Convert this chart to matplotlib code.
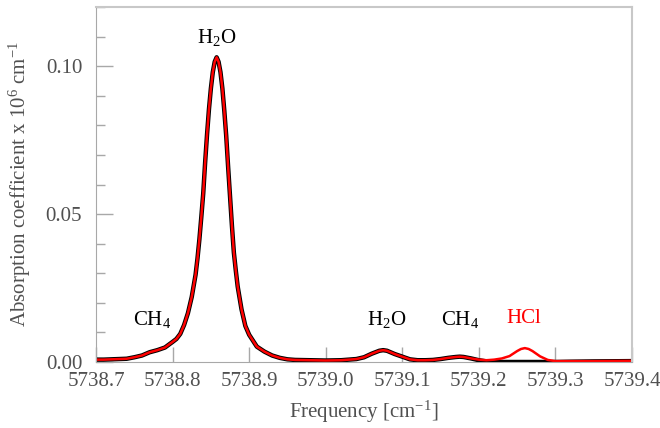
import matplotlib
matplotlib.use("Agg")
import matplotlib.pyplot as plt
from matplotlib.ticker import MultipleLocator, FormatStrFormatter

plt.rcParams["font.family"] = ["Liberation Serif", "DejaVu Serif"]
plt.rcParams["mathtext.fontset"] = "custom"
plt.rcParams["mathtext.rm"] = "Liberation Serif"
plt.rcParams["mathtext.it"] = "Liberation Serif:italic"

# frequency grid [cm-1]
freq = [5738.700, 5738.710, 5738.720, 5738.730, 5738.740, 5738.750, 5738.760,
        5738.770, 5738.780, 5738.790, 5738.800, 5738.805, 5738.810, 5738.815,
        5738.820, 5738.825, 5738.830, 5738.8325, 5738.835, 5738.8375, 5738.840,
        5738.8425, 5738.845, 5738.8475, 5738.850, 5738.8525, 5738.855, 5738.8575,
        5738.860, 5738.8625, 5738.865, 5738.8675, 5738.870, 5738.8725, 5738.875,
        5738.8775, 5738.880, 5738.8825, 5738.885, 5738.890, 5738.895, 5738.900,
        5738.910, 5738.920, 5738.930, 5738.940, 5738.950, 5738.960, 5738.980,
        5739.000, 5739.020, 5739.040, 5739.050, 5739.060, 5739.070, 5739.075,
        5739.080, 5739.090, 5739.100, 5739.110, 5739.120, 5739.130, 5739.140,
        5739.150, 5739.160, 5739.170, 5739.175, 5739.180, 5739.190, 5739.200,
        5739.210, 5739.220, 5739.230, 5739.240, 5739.250, 5739.255, 5739.260,
        5739.265, 5739.270, 5739.275, 5739.280, 5739.290, 5739.300, 5739.320,
        5739.350, 5739.400]

# absorption without HCl (black)
abs_no_hcl = [0.0008, 0.0008, 0.0009, 0.0010, 0.0011, 0.0016, 0.0022,
              0.0033, 0.0040, 0.0049, 0.0068, 0.0078, 0.0095, 0.0125,
              0.0165, 0.0220, 0.0295, 0.0350, 0.0415, 0.0490, 0.0570,
              0.0675, 0.0770, 0.0855, 0.0925, 0.0980, 0.1015, 0.1030,
              0.1015, 0.0980, 0.0925, 0.0850, 0.0765, 0.0660, 0.0560,
              0.0460, 0.0370, 0.0310, 0.0255, 0.0178, 0.0122, 0.0092,
              0.0052, 0.0035, 0.0022, 0.0014, 0.0009, 0.0007, 0.0006,
              0.0005, 0.0006, 0.0010, 0.0016, 0.0028, 0.0038, 0.0040,
              0.0038, 0.0027, 0.0018, 0.0009, 0.0006, 0.0006, 0.0007,
              0.0010, 0.0014, 0.0017, 0.0018, 0.0017, 0.0012, 0.0006,
              0.0002, 0.0000, 0.0000, 0.0000, 0.0000, 0.0000, 0.0000,
              0.0000, 0.0000, 0.0000, 0.0000, 0.0000, 0.0000, 0.0001,
              0.0002, 0.0003]

# total absorption including HCl (red)
abs_total = [0.0008, 0.0008, 0.0009, 0.0010, 0.0011, 0.0016, 0.0022,
             0.0033, 0.0040, 0.0049, 0.0068, 0.0078, 0.0095, 0.0125,
             0.0165, 0.0220, 0.0295, 0.0350, 0.0415, 0.0490, 0.0570,
             0.0675, 0.0770, 0.0855, 0.0925, 0.0980, 0.1015, 0.1030,
             0.1015, 0.0980, 0.0925, 0.0850, 0.0765, 0.0660, 0.0560,
             0.0460, 0.0370, 0.0310, 0.0255, 0.0178, 0.0122, 0.0092,
             0.0052, 0.0035, 0.0022, 0.0014, 0.0009, 0.0007, 0.0006,
             0.0005, 0.0006, 0.0010, 0.0016, 0.0028, 0.0038, 0.0040,
             0.0038, 0.0027, 0.0018, 0.0009, 0.0006, 0.0006, 0.0007,
             0.0010, 0.0014, 0.0017, 0.0018, 0.0017, 0.0012, 0.0008,
             0.0006, 0.0008, 0.0012, 0.0020, 0.0037, 0.0044, 0.0047,
             0.0044, 0.0037, 0.0028, 0.0019, 0.0007, 0.0003, 0.0003,
             0.0003, 0.0004]

# peak labels
label_text = ["H$_2$O", "CH$_4$", "H$_2$O", "CH$_4$", "HCl"]
label_freq = [5738.858, 5738.773, 5739.080, 5739.175, 5739.259]
label_abs = [0.1098, 0.0142, 0.0142, 0.0142, 0.0148]
label_color = ["black", "black", "black", "black", "red"]

fig = plt.figure(figsize=(6.6, 4.28), dpi=100)
ax = fig.add_axes([0.1455, 0.1542, 0.8121, 0.8294])

ax.plot(freq, abs_no_hcl, color="black", lw=3.2, solid_joinstyle="round")
ax.plot(freq, abs_total, color="red", lw=1.8, solid_joinstyle="round")

for txt, f, a, c in zip(label_text, label_freq, label_abs, label_color):
    ax.text(f, a, txt, color=c, fontsize=15, ha="center", va="center")

ax.set_xlim(5738.7, 5739.4)
ax.set_ylim(0, 0.12)
ax.xaxis.set_major_locator(MultipleLocator(0.1))
ax.xaxis.set_major_formatter(FormatStrFormatter("%.1f"))
ax.yaxis.set_major_locator(MultipleLocator(0.05))
ax.yaxis.set_minor_locator(MultipleLocator(0.01))
ax.yaxis.set_major_formatter(FormatStrFormatter("%.2f"))

grey = "#a8a8a8"
ax.tick_params(axis="x", which="major", direction="in", length=11, width=1,
               color=grey, labelsize=15, labelcolor="#505050", pad=7)
ax.tick_params(axis="y", which="major", direction="in", length=12, width=1,
               color=grey, labelsize=15, labelcolor="#505050", pad=10)
ax.tick_params(axis="y", which="minor", direction="in", length=6.5, width=1,
               color=grey)
for side in ["left", "bottom"]:
    ax.spines[side].set_color(grey)
for side in ["top", "right"]:
    ax.spines[side].set_color("#c8c8c8")
    ax.spines[side].set_linewidth(1.5)

ax.set_xlabel("Frequency [cm$^{-1}$]", fontsize=15, color="#505050", labelpad=6)
ax.set_ylabel("Absorption coefficient x 10$^6$ cm$^{-1}$", fontsize=15,
              color="#505050", labelpad=9)

fig.savefig("out.png", dpi=100)
